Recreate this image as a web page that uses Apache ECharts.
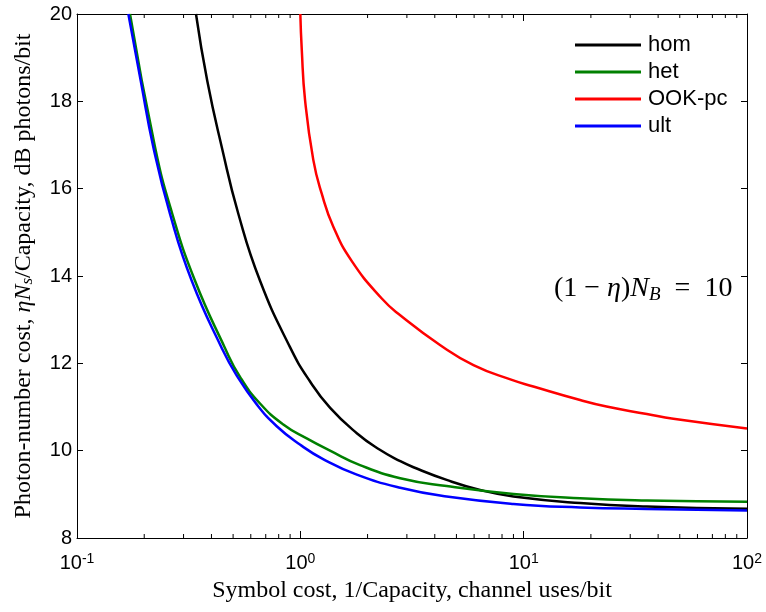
<!DOCTYPE html>
<html>
<head>
<meta charset="utf-8">
<script src="https://cdn.jsdelivr.net/npm/echarts@6/dist/echarts.min.js"></script>
<style>
html,body{margin:0;padding:0;background:#fff;}
#chart{width:766px;height:612px;}
</style>
</head>
<body>
<div id="chart"></div>
<script>
// ---- data ----
const seriesNames = ['hom', 'het', 'OOK-pc', 'ult'];
const homX = [0.341, 0.383, 0.445, 0.528, 0.660, 0.899, 1.1, 1.36, 1.79, 2.27, 2.80, 3.21, 4.52, 6.38, 9.0, 17.9, 35.6, 100];
const homY = [20, 18.47, 16.95, 15.42, 13.89, 12.37, 11.60, 10.98, 10.40, 10.02, 9.76, 9.62, 9.33, 9.10, 8.95, 8.80, 8.72, 8.67];
const hetX = [0.1727, 0.2236, 0.2672, 0.3376, 0.458, 0.537, 0.660, 0.839, 1.068, 1.358, 1.85, 2.80, 4.52, 9.0, 17.9, 35.6, 100];
const hetY = [20, 16.95, 15.42, 13.89, 12.37, 11.69, 11.08, 10.60, 10.28, 10.00, 9.67, 9.37, 9.19, 9.01, 8.91, 8.86, 8.83];
const ookX = [1.0, 1.015, 1.05, 1.143, 1.246, 1.405, 1.70, 2.31, 2.8, 4.22, 5.96, 8.85, 11.05, 17.9, 23.5, 35.6, 46.8, 100];
const ookY = [20, 19.18, 18.03, 16.66, 15.89, 15.13, 14.34, 13.49, 13.10, 12.42, 11.96, 11.62, 11.47, 11.16, 11.01, 10.84, 10.73, 10.51];
const ultX = [0.1698, 0.1929, 0.2197, 0.2609, 0.3264, 0.443, 0.519, 0.638, 0.784, 0.9955, 1.27, 1.79, 2.80, 4.52, 9.0, 17.9, 35.6, 100];
const ultY = [20, 18.47, 16.95, 15.42, 13.89, 12.37, 11.72, 11.06, 10.56, 10.14, 9.80, 9.45, 9.15, 8.95, 8.78, 8.70, 8.665, 8.63];
const minorTicks = [0.2,0.3,0.4,0.5,0.6,0.7,0.8,0.9, 2,3,4,5,6,7,8,9, 20,30,40,50,60,70,80,90];
const yTicks = {min: 8, max: 20, interval: 2};
const xRange = {min: 0.1, max: 100};

const colors = ['#000000', '#008000', '#ff0000', '#0000ff'];
function pairs(xs, ys){ return xs.map((x,i)=>[x, ys[i]]); }
const allData = [pairs(homX,homY), pairs(hetX,hetY), pairs(ookX,ookY), pairs(ultX,ultY)];

const sans = '"Liberation Sans", Arial, Helvetica, sans-serif';
const serif = '"Liberation Serif", "Times New Roman", serif';

const chart = echarts.init(document.getElementById('chart'), null, {renderer:'canvas'});

const lineSeries = seriesNames.map((n,i)=>({
  name: n, type: 'line', data: allData[i], showSymbol: false, symbol: 'none',
  smooth: 0.5,
  lineStyle: {color: colors[i], width: 2.5}, itemStyle: {color: colors[i]},
  xAxisIndex: 0, yAxisIndex: 0, z: 3
}));

const option = {
  animation: false,
  backgroundColor: '#fff',
  grid: {left: 77, top: 14, right: 19, bottom: 74, containLabel: false},
  legend: {
    data: seriesNames, orient: 'vertical', left: 575, top: 34, padding: 0,
    itemWidth: 66, itemHeight: 3, itemGap: 5, icon: 'rect',
    textStyle: {fontFamily: sans, fontSize: 22, color: '#000', padding: [0,0,0,2]}
  },
  xAxis: [{
    type: 'log', logBase: 10, min: xRange.min, max: xRange.max,
    position: 'bottom',
    name: 'Symbol cost, 1/Capacity, channel uses/bit',
    nameLocation: 'middle', nameGap: 41,
    nameTextStyle: {fontFamily: serif, fontSize: 24, color: '#000'},
    axisLine: {show: true, lineStyle: {color: '#000', width: 1}},
    axisTick: {show: true, inside: true, length: 7, lineStyle: {color: '#000'}},
    splitLine: {show: false},
    axisLabel: {
      margin: 14, color: '#000',
      formatter: function(v){ const e = Math.round(Math.log10(v)); return '{b|10}{s|' + e + '}'; },
      rich: {
        b: {fontFamily: sans, fontSize: 20, lineHeight: 22, color: '#000'},
        s: {fontFamily: sans, fontSize: 14, lineHeight: 14, verticalAlign: 'top', color: '#000'}
      }
    }
  }, {
    type: 'log', logBase: 10, min: xRange.min, max: xRange.max,
    position: 'top', gridIndex: 0,
    axisLine: {show: true, lineStyle: {color: '#000', width: 1}},
    axisTick: {show: true, inside: true, length: 7, lineStyle: {color: '#000'}},
    axisLabel: {show: false}, splitLine: {show: false}
  }],
  yAxis: [{
    type: 'value', min: yTicks.min, max: yTicks.max, interval: yTicks.interval,
    position: 'left',
    name: 'Photon-number cost, {i|ηN}{sub|s}/Capacity, dB photons/bit',
    nameLocation: 'middle', nameGap: 41, nameRotate: 90,
    nameTextStyle: {fontFamily: serif, fontSize: 24, color: '#000',
      rich: {
        i: {fontFamily: serif, fontSize: 24, fontStyle: 'italic', color: '#000'},
        sub: {fontFamily: serif, fontSize: 17, fontStyle: 'italic', verticalAlign: 'bottom', color: '#000', padding: [7,0,0,0]}
      }
    },
    axisLine: {show: true, lineStyle: {color: '#000', width: 1}},
    axisTick: {show: true, inside: true, length: 6, lineStyle: {color: '#000'}},
    splitLine: {show: false},
    axisLabel: {margin: 5, fontFamily: sans, fontSize: 20, color: '#000'}
  }, {
    type: 'value', min: yTicks.min, max: yTicks.max, interval: yTicks.interval,
    position: 'right',
    axisLine: {show: true, lineStyle: {color: '#000', width: 1}},
    axisTick: {show: true, inside: true, length: 6, lineStyle: {color: '#000'}},
    axisLabel: {show: false}, splitLine: {show: false}
  }],
  graphic: [{
    type: 'text', left: 554, top: 275, z: 10,
    style: {
      text: '{r|(1 − }{i|η}{r|)}{i|N}{sub|B}{r|  =  10}',
      rich: {
        r: {fontFamily: serif, fontSize: 28, fill: '#000'},
        i: {fontFamily: serif, fontSize: 28, fontStyle: 'italic', fill: '#000'},
        sub: {fontFamily: serif, fontSize: 19, fontStyle: 'italic', fill: '#000', verticalAlign: 'bottom', padding: [11,0,0,0]}
      }
    }
  }],
  series: lineSeries.concat([{
    type: 'custom', name: 'minorTicks', silent: true, clip: false,
    xAxisIndex: 0, yAxisIndex: 0,
    data: minorTicks.map(v => [v, yTicks.min]),
    encode: {x: 0, y: 1},
    renderItem: function(params, api){
      const x = api.coord([api.value(0), yTicks.min])[0];
      const yb = api.coord([api.value(0), yTicks.min])[1];
      const yt = api.coord([api.value(0), yTicks.max])[1];
      return {type: 'group', children: [
        {type: 'line', shape: {x1: x, y1: yb, x2: x, y2: yb - 4}, style: {stroke: '#000', lineWidth: 1}},
        {type: 'line', shape: {x1: x, y1: yt, x2: x, y2: yt + 4}, style: {stroke: '#000', lineWidth: 1}}
      ]};
    }
  }])
};
chart.setOption(option);
</script>
</body>
</html>
